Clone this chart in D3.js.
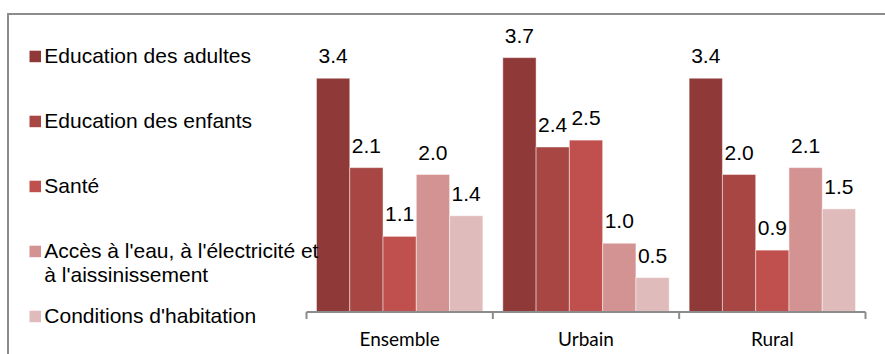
<!DOCTYPE html>
<html>
<head>
<meta charset="utf-8">
<script src="https://cdn.jsdelivr.net/npm/d3@7"></script>
<style>
  body { margin: 0; background: #fff; }
  svg { display: block; }
</style>
</head>
<body>
<div id="chart"></div>
<script>
// categories (groups on the x axis)
var groups = ["Ensemble", "Urbain", "Rural"];

// series names, in legend order
var seriesNames = [
  "Education des adultes",
  "Education des enfants",
  "Santé",
  "Accès à l'eau, à l'électricité et à l'aissinissement",
  "Conditions d'habitation"
];

// one array per series: Ensemble, Urbain, Rural
var eduAdultes = [3.4, 3.7, 3.4];
var eduEnfants = [2.1, 2.4, 2.0];
var sante = [1.1, 2.5, 0.9];
var accesEau = [2.0, 1.0, 2.1];
var habitation = [1.4, 0.5, 1.5];

var seriesColors = ["#8f3a38", "#a84644", "#c0504d", "#d39392", "#e0bbbb"];

var allSeries = [eduAdultes, eduEnfants, sante, accesEau, habitation];

var width = 885, height = 354;

var svg = d3.select("#chart")
  .append("svg")
  .attr("width", width)
  .attr("height", height);

// outer frame (runs off the right and bottom edges)
svg.append("rect")
  .attr("x", 8)
  .attr("y", 14)
  .attr("width", width + 20)
  .attr("height", height + 20)
  .style("fill", "white")
  .style("stroke", "#8c8c8c")
  .style("stroke-width", "2px");

// scales
var x0 = d3.scaleBand()
  .domain(groups)
  .range([306.5, 865.5])
  .paddingInner(0)
  .paddingOuter(0);

var x1 = d3.scaleBand()
  .domain(d3.range(seriesNames.length))
  .range([0, x0.bandwidth()])
  .paddingInner(0)
  .paddingOuter(0.3);

var y = d3.scaleLinear()
  .domain([0, 4])
  .range([312, 37]);

// flatten to one record per bar
var bars = [];
groups.forEach(function(g, gi) {
  allSeries.forEach(function(s, si) {
    bars.push({ group: g, series: si, value: s[gi] });
  });
});

// bars
svg.append("g")
  .selectAll("rect")
  .data(bars)
  .enter()
  .append("rect")
  .attr("x", function(d) { return x0(d.group) + x1(d.series); })
  .attr("y", function(d) { return y(d.value); })
  .attr("width", x1.bandwidth())
  .attr("height", function(d) { return y(0) - y(d.value); })
  .style("fill", function(d) { return seriesColors[d.series]; })
  .style("stroke", "rgba(255,255,255,0.45)")
  .style("stroke-width", "1px");

// value labels
svg.append("g")
  .selectAll("text")
  .data(bars)
  .enter()
  .append("text")
  .attr("x", function(d) { return x0(d.group) + x1(d.series) + x1.bandwidth() / 2; })
  .attr("y", function(d) { return y(d.value) - 15; })
  .attr("text-anchor", "middle")
  .style("font-family", "'Liberation Sans', Arial, sans-serif")
  .style("font-size", "21px")
  .style("fill", "#000")
  .text(function(d) { return d3.format(".1f")(d.value); });

// x axis with group boundary ticks
var axis = svg.append("g");
axis.append("line")
  .attr("x1", x0.range()[0])
  .attr("x2", x0.range()[1])
  .attr("y1", y(0))
  .attr("y2", y(0))
  .style("stroke", "#8c8c8c")
  .style("stroke-width", "2px");

var bounds = groups.map(function(g) { return x0(g); }).concat([x0.range()[1]]);
axis.selectAll("line.tick")
  .data(bounds)
  .enter()
  .append("line")
  .attr("class", "tick")
  .attr("x1", function(d) { return d; })
  .attr("x2", function(d) { return d; })
  .attr("y1", y(0))
  .attr("y2", y(0) + 7)
  .style("stroke", "#8c8c8c")
  .style("stroke-width", "2px");

axis.selectAll("text")
  .data(groups)
  .enter()
  .append("text")
  .attr("x", function(d) { return x0(d) + x0.bandwidth() / 2; })
  .attr("y", 346)
  .attr("text-anchor", "middle")
  .style("font-family", "Lato, 'Open Sans', sans-serif")
  .style("font-size", "19px")
  .style("fill", "#000")
  .text(function(d) { return d; });

// legend (drawn last, it overlaps the first bar)
var legend = svg.append("g")
  .selectAll("g")
  .data(seriesNames)
  .enter()
  .append("g")
  .attr("transform", function(d, i) { return "translate(0," + (62.7 + i * 65) + ")"; });

legend.append("rect")
  .attr("x", 29.5)
  .attr("y", -12)
  .attr("width", 11.5)
  .attr("height", 11.5)
  .style("fill", function(d, i) { return seriesColors[i]; });

legend.append("text")
  .attr("x", 44.3)
  .attr("y", 0)
  .style("font-family", "'Liberation Sans', Arial, sans-serif")
  .style("font-size", "21px")
  .style("fill", "#000")
  .each(function(d) {
    // wrap long names
    var t = d3.select(this);
    var words = d.split(" ");
    var line = [];
    var lineNo = 0;
    var tspan = t.append("tspan").attr("x", 44.3).attr("dy", 0);
    words.forEach(function(w) {
      line.push(w);
      tspan.text(line.join(" "));
      if (tspan.node().getComputedTextLength() > 285 && line.length > 1) {
        line.pop();
        tspan.text(line.join(" "));
        line = [w];
        lineNo++;
        tspan = t.append("tspan").attr("x", 44.3).attr("dy", "24.4px").text(w);
      }
    });
  });
</script>
</body>
</html>
